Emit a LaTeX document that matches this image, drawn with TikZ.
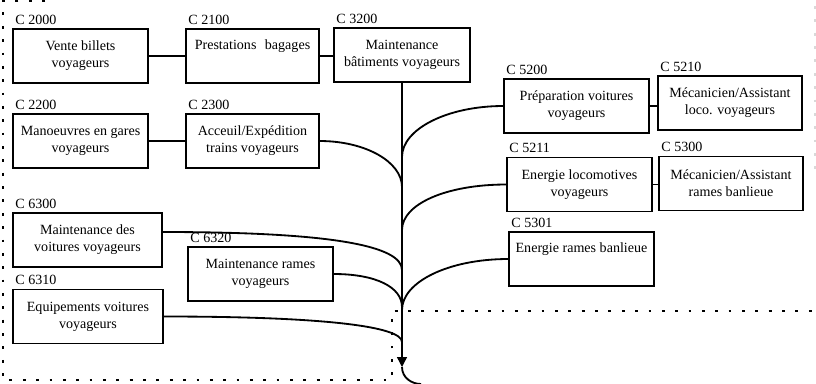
\documentclass[tikz,border=0pt]{standalone}
\usepackage{fontspec}
\setmainfont{Liberation Serif}
\usetikzlibrary{arrows.meta}
\tikzset{
  every node/.style = {font=\fontsize{10}{12}\selectfont},   % same text size everywhere
  section/.style    = {rectangle, draw, line width=0.9pt, align=center,
                       minimum height=1.35cm, inner sep=2pt},
  code/.style       = {anchor=south west, inner sep=0pt, xshift=0.07cm, yshift=0.09cm},
  link/.style       = {line width=1pt},
  feed/.style       = {line width=1.3pt},
  zone/.style       = {line width=1.7pt, dash pattern=on 2pt off 7.5pt}
}

\begin{document}
\begin{tikzpicture}[x=0.025cm, y=-0.025cm]
  \useasboundingbox (0,0) rectangle (816,383);

  % left block of sections
  \node[section, minimum width=3.375cm, label={[code]north west:C 2000}] (vente) at (80.5,56) {Vente billets\\voyageurs};
  \node[section, minimum width=3.325cm, label={[code]north west:C 2100}] (bagages) at (252.5,56) {Prestations\hspace{0.6em}bagages\\\strut};
  \node[section, minimum width=3.4cm, label={[code]north west:C 3200}] (batiments) at (402,55) {Maintenance\\bâtiments voyageurs};
  \node[section, minimum width=3.375cm, label={[code]north west:C 2200}] (manoeuvres) at (80.5,141) {Manoeuvres en gares\\voyageurs};
  \node[section, minimum width=3.325cm, label={[code]north west:C 2300}] (accueil) at (252.5,141) {Acceuil/Expédition\\trains voyageurs};
  \node[section, minimum width=3.725cm, label={[code]north west:C 6300}] (voitures) at (87.5,240) {Maintenance des\\voitures voyageurs};
  \node[section, minimum width=3.625cm, label={[code]north west:C 6320}] (rames) at (260.5,274) {Maintenance rames\\voyageurs};
  \node[section, minimum width=3.75cm, label={[code]north west:C 6310}] (equipements) at (88,316.5) {Equipements voitures\\voyageurs};

  % right block of sections
  \node[section, minimum width=3.625cm, label={[code]north west:C 5200}] (preparation) at (576.5,106) {Préparation voitures\\voyageurs};
  \node[section, minimum width=3.6cm, label={[code]north west:C 5210}] (mecaloco) at (730,103) {Mécanicien/Assistant\\loco. voyageurs};
  \node[section, minimum width=3.625cm, label={[code]north west:C 5211}] (energieloco) at (579.5,184.5) {Energie locomotives\\voyageurs};
  \node[section, minimum width=3.6cm, label={[code]north west:C 5300}] (mecarames) at (731,183.5) {Mécanicien/Assistant\\rames banlieue};
  \node[section, minimum width=3.625cm, label={[code]north west:C 5301}] (energierames) at (581.5,259) {Energie rames banlieue\\\strut};

  % straight links between neighbours
  \draw[link] (vente.east) -- (bagages.west);
  \draw[link] (bagages.east) -- (bagages.east -| batiments.west);
  \draw[link] (manoeuvres.east) -- (accueil.west);
  \draw[link] (preparation.east) -- (preparation.east -| mecaloco.west);
  \draw[link] (energieloco.east) -- (energieloco.east -| mecarames.west);

  % points where the branches meet the trunk
  \coordinate (jF) at (402,157);
  \coordinate (jE) at (402,187);
  \coordinate (jH) at (402,230);
  \coordinate (jK) at (402,270);
  \coordinate (jL) at (402,307);
  \coordinate (jJ) at (402,310);
  \coordinate (jM) at (402,342);
  \coordinate (tip) at (402,367);
  \coordinate (exit) at (421,384);

  % trunk
  \draw[link, -{Triangle[length=7pt,width=7pt]}] (batiments.south) -- (tip);
  \draw[feed] (tip) .. controls +(0,11) and +(-9,0) .. (exit);

  % branches
  \draw[feed] (accueil.east) .. controls +(46,0) and +(0,-25) .. (jE);
  \draw[feed] (preparation.west) .. controls +(-56,0) and +(0,-28) .. (jF);
  \draw[feed] ([yshift=0.2cm]voitures.east) .. controls +(170,0) and +(0,-24) .. (jK);
  \draw[feed] (energieloco.west) .. controls +(-60,0) and +(0,-26) .. (jH);
  \draw[feed] (rames.east) .. controls +(42,0) and +(0,-20) .. (jL);
  \draw[feed] (energierames.west) .. controls +(-60,0) and +(0,-28) .. (jJ);
  \draw[feed] (equipements.east) .. controls +(165,0) and +(0,-15) .. (jM);

  % dotted boundary
  \draw[zone] (45,1) -- (3,1) -- (3,380) -- (392,380) -- (392,311) -- (816,311);
  \draw[zone, line width=1pt, gray!30] (815,6) -- (815,178);
\end{tikzpicture}
\end{document}
